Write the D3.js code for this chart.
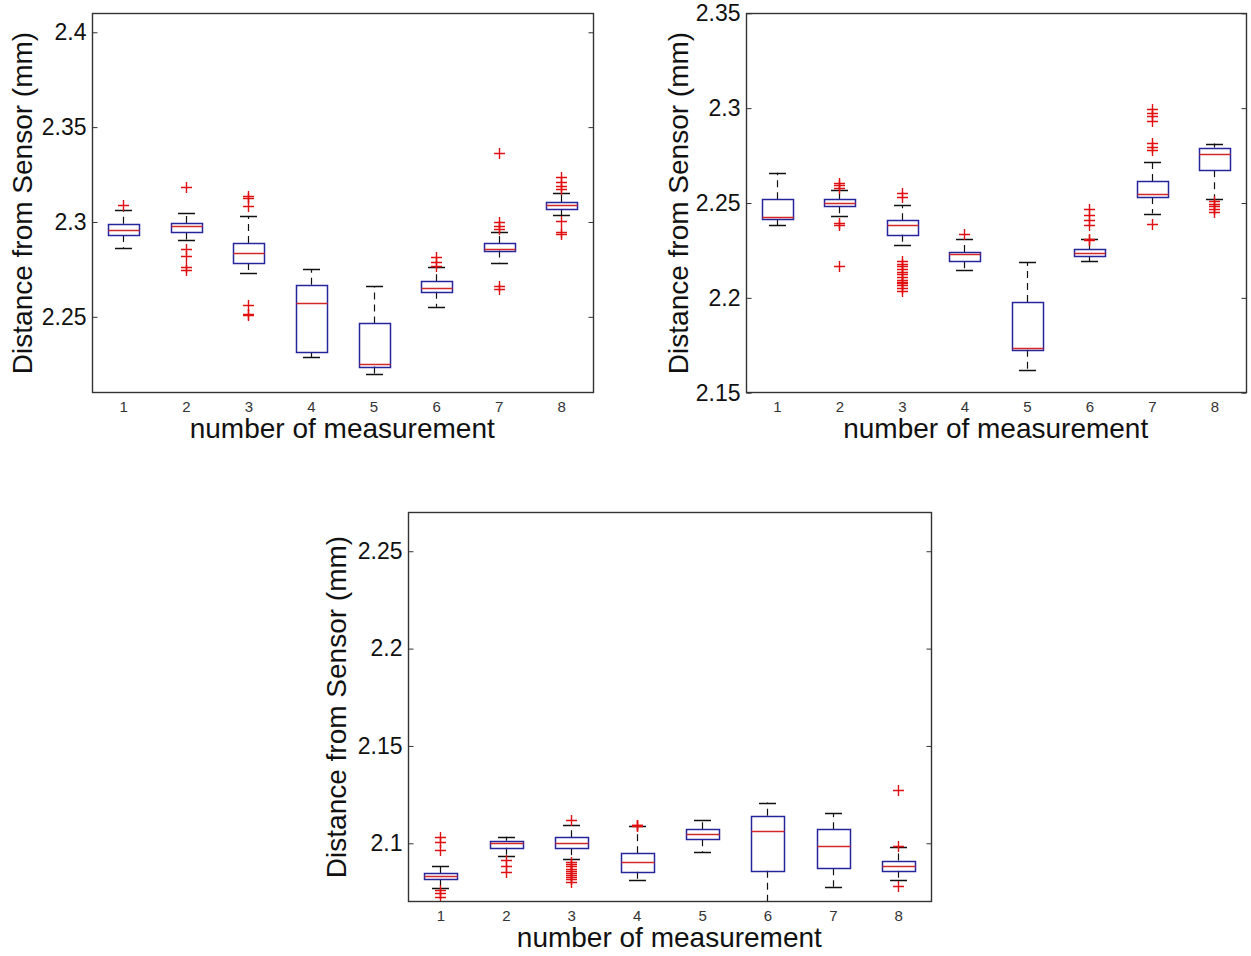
<!DOCTYPE html>
<html>
<head>
<meta charset="utf-8">
<script src="https://cdn.jsdelivr.net/npm/d3@7"></script>
<style>
  html, body { margin: 0; padding: 0; background: #fff; }
  svg { display: block; font-family: "Liberation Sans", Arial, sans-serif; }
</style>
</head>
<body>
<svg id="chart" width="1251" height="956"></svg>
<script>
// Measurement numbers shared by all three panels
const measurements = [1, 2, 3, 4, 5, 6, 7, 8];

// ---- Panel A (top left) ----
const aRange = [2.21, 2.41];
const aTicks = [2.25, 2.3, 2.35, 2.4];
const aTickLabels = ["2.25", "2.3", "2.35", "2.4"];
const aQ1     = [2.2931, 2.2945, 2.2784, 2.2312, 2.2238, 2.2632, 2.2849, 2.3069];
const aMedian = [2.2959, 2.2980, 2.2836, 2.2573, 2.2251, 2.2652, 2.2858, 2.3090];
const aQ3     = [2.2990, 2.2995, 2.2889, 2.2669, 2.2465, 2.2687, 2.2889, 2.3105];
const aLow    = [2.2864, 2.2903, 2.2729, 2.2288, 2.2201, 2.2553, 2.2785, 2.3037];
const aHigh   = [2.3063, 2.3047, 2.3030, 2.2750, 2.2660, 2.2760, 2.2947, 2.3153];
const aOutliers = [
  [2.3090],
  [2.3186, 2.2858, 2.2819, 2.2761, 2.2747],
  [2.3135, 2.3127, 2.3082, 2.2564, 2.2515, 2.2510],
  [],
  [],
  [2.2813, 2.2787, 2.2769],
  [2.3363, 2.2998, 2.2980, 2.2963, 2.2660, 2.2647],
  [2.3235, 2.3212, 2.3188, 2.3172, 2.3007, 2.2945, 2.2937]
];

// ---- Panel B (top right) ----
const bRange = [2.15, 2.35];
const bTicks = [2.15, 2.2, 2.25, 2.3, 2.35];
const bTickLabels = ["2.15", "2.2", "2.25", "2.3", "2.35"];
const bQ1     = [2.2414, 2.2483, 2.2333, 2.2193, 2.1727, 2.2221, 2.2532, 2.2672];
const bMedian = [2.2426, 2.2500, 2.2382, 2.2233, 2.1738, 2.2239, 2.2550, 2.2758];
const bQ3     = [2.2520, 2.2520, 2.2409, 2.2242, 2.1978, 2.2256, 2.2616, 2.2792];
const bLow    = [2.2384, 2.2434, 2.2281, 2.2145, 2.1622, 2.2194, 2.2444, 2.2523];
const bHigh   = [2.2660, 2.2567, 2.2488, 2.2309, 2.2187, 2.2310, 2.2716, 2.2813];
const bOutliers = [
  [],
  [2.2605, 2.2593, 2.2581, 2.2395, 2.2382, 2.2168],
  [2.2553, 2.2532, 2.2194, 2.2180, 2.2166, 2.2152, 2.2138, 2.2124, 2.2110,
   2.2095, 2.2082, 2.2079, 2.2067, 2.2050, 2.2035],
  [2.2339],
  [],
  [2.2470, 2.2438, 2.2412, 2.2386, 2.2312, 2.2303],
  [2.2998, 2.2975, 2.2957, 2.2932, 2.2814, 2.2796, 2.2780, 2.2391],
  [2.2510, 2.2497, 2.2486, 2.2470, 2.2455]
];

// ---- Panel C (bottom) ----
const cRange = [2.07, 2.27];
const cTicks = [2.1, 2.15, 2.2, 2.25];
const cTickLabels = ["2.1", "2.15", "2.2", "2.25"];
const cQ1     = [2.0815, 2.0977, 2.0974, 2.0854, 2.1021, 2.0859, 2.0872, 2.0859];
const cMedian = [2.0832, 2.1000, 2.1000, 2.0902, 2.1048, 2.1065, 2.0986, 2.0885];
const cQ3     = [2.0846, 2.1013, 2.1031, 2.0949, 2.1072, 2.1142, 2.1072, 2.0911];
const cLow    = [2.0772, 2.0935, 2.0918, 2.0811, 2.0954, 2.0690, 2.0777, 2.0812];
const cHigh   = [2.0883, 2.1034, 2.1094, 2.1089, 2.1120, 2.1209, 2.1154, 2.0983];
const cOutliers = [
  [2.1031, 2.1008, 2.0966, 2.0759, 2.0743, 2.0726],
  [2.0914, 2.0883, 2.0851],
  [2.1122, 2.0905, 2.0893, 2.0881, 2.0868, 2.0858, 2.0847, 2.0837, 2.0827, 2.0815, 2.0803],
  [2.1095, 2.1092, 2.1090],
  [],
  [],
  [],
  [2.1274, 2.0985, 2.0782]
];

const yTitle = "Distance from Sensor (mm)";
const xTitle = "number of measurement";

// Styling
const BOX_COLOR = "#26269c";
const MEDIAN_COLOR = "#d42828";
const OUTLIER_COLOR = "#e01010";
const WHISKER_COLOR = "#111";
const FRAME_COLOR = "#333";

const svg = d3.select("#chart");

function drawPanel(id, frame, s) {
  const x = d3.scaleLinear().domain([0.5, 8.5]).range([frame.left, frame.right]);
  const y = d3.scaleLinear().domain(s.range).range([frame.bottom, frame.top]);
  const px = v => Math.round(v) + 0.5;

  const g = svg.append("g").attr("class", "panel-" + id);

  g.append("clipPath").attr("id", "clip-" + id)
    .append("rect")
    .attr("x", frame.left).attr("y", frame.top)
    .attr("width", frame.right - frame.left)
    .attr("height", frame.bottom - frame.top);

  const plot = g.append("g").attr("clip-path", `url(#clip-${id})`);

  const boxW = x(1.25) - x(1);     // half box width (box width 0.5)
  const capW = x(1.13) - x(1);     // half cap width

  measurements.forEach((m, i) => {
    const cx = px(x(m));
    const bg = plot.append("g");

    // whiskers (dashed)
    bg.append("line")
      .attr("x1", cx).attr("x2", cx)
      .attr("y1", y(s.q3[i])).attr("y2", y(s.high[i]))
      .attr("stroke", WHISKER_COLOR).attr("stroke-width", 1.2)
      .attr("stroke-dasharray", "7,5");
    bg.append("line")
      .attr("x1", cx).attr("x2", cx)
      .attr("y1", y(s.q1[i])).attr("y2", y(s.low[i]))
      .attr("stroke", WHISKER_COLOR).attr("stroke-width", 1.2)
      .attr("stroke-dasharray", "7,5");

    // whisker caps
    [s.high[i], s.low[i]].forEach(v => {
      bg.append("line")
        .attr("x1", Math.round(cx - capW)).attr("x2", Math.round(cx + capW))
        .attr("y1", px(y(v))).attr("y2", px(y(v)))
        .attr("stroke", WHISKER_COLOR).attr("stroke-width", 1.3);
    });

    // box
    const top = px(y(s.q3[i]));
    const bot = px(y(s.q1[i]));
    bg.append("rect")
      .attr("x", px(cx - boxW)).attr("y", top)
      .attr("width", Math.round(2 * boxW)).attr("height", Math.max(1, bot - top))
      .attr("fill", "none")
      .attr("stroke", BOX_COLOR).attr("stroke-width", 1.5);

    // median
    bg.append("line")
      .attr("x1", px(cx - boxW)).attr("x2", px(cx - boxW) + Math.round(2 * boxW))
      .attr("y1", px(y(s.median[i]))).attr("y2", px(y(s.median[i])))
      .attr("stroke", MEDIAN_COLOR).attr("stroke-width", 1.3);

    // outliers as "+" markers
    bg.selectAll("path.out")
      .data(s.outliers[i])
      .enter().append("path")
      .attr("class", "out")
      .attr("d", v => {
        const yy = px(y(v));
        return `M${cx - 5.5},${yy}H${cx + 5.5}M${cx},${yy - 5.5}V${yy + 5.5}`;
      })
      .attr("fill", "none")
      .attr("stroke", OUTLIER_COLOR).attr("stroke-width", 1.4);
  });

  // frame
  g.append("rect")
    .attr("x", px(frame.left)).attr("y", px(frame.top))
    .attr("width", Math.round(frame.right - frame.left))
    .attr("height", Math.round(frame.bottom - frame.top))
    .attr("fill", "none")
    .attr("stroke", FRAME_COLOR).attr("stroke-width", 1.4);

  // left y axis: inward ticks with labels
  const yAxisL = d3.axisLeft(y)
    .tickValues(s.ticks)
    .tickSize(-5)
    .tickPadding(6)
    .tickFormat((d, k) => s.tickLabels[k]);
  const gl = g.append("g").attr("transform", `translate(${px(frame.left)},0)`).call(yAxisL);
  gl.select(".domain").remove();
  gl.selectAll(".tick line").attr("stroke", FRAME_COLOR);
  gl.selectAll(".tick text")
    .attr("fill", "#111")
    .style("font-size", s.tickFont + "px")
    .style("font-family", "'Liberation Sans', Arial, sans-serif");

  // right y axis: inward ticks only
  const yAxisR = d3.axisRight(y).tickValues(s.ticks).tickSize(-5).tickFormat("");
  const gr = g.append("g").attr("transform", `translate(${px(frame.right)},0)`).call(yAxisR);
  gr.select(".domain").remove();
  gr.selectAll(".tick line").attr("stroke", FRAME_COLOR);

  // x axis: category labels only
  const xAxis = d3.axisBottom(x).tickValues(measurements).tickSize(0).tickPadding(8)
    .tickFormat(d3.format("d"));
  const gx = g.append("g").attr("transform", `translate(0,${px(frame.bottom)})`).call(xAxis);
  gx.select(".domain").remove();
  gx.selectAll(".tick text")
    .attr("fill", "#333")
    .style("font-size", "15px")
    .style("font-family", "'Liberation Sans', Arial, sans-serif");

  // axis titles
  g.append("text")
    .attr("transform", `translate(${frame.yTitleX},${(frame.top + frame.bottom) / 2}) rotate(-90)`)
    .attr("text-anchor", "middle")
    .attr("dy", "0.35em")
    .attr("fill", "#111")
    .style("font-size", "28px")
    .text(yTitle);

  g.append("text")
    .attr("x", (frame.left + frame.right) / 2)
    .attr("y", frame.bottom + 45)
    .attr("text-anchor", "middle")
    .attr("fill", "#111")
    .style("font-size", "28px")
    .text(xTitle);
}

drawPanel("a",
  { left: 92, right: 592.5, top: 13.3, bottom: 392.7, yTitleX: 22 },
  { range: aRange, ticks: aTicks, tickLabels: aTickLabels, tickFont: 23,
    q1: aQ1, median: aMedian, q3: aQ3, low: aLow, high: aHigh, outliers: aOutliers });

drawPanel("b",
  { left: 745.7, right: 1245.7, top: 13.3, bottom: 392.7, yTitleX: 678 },
  { range: bRange, ticks: bTicks, tickLabels: bTickLabels, tickFont: 23,
    q1: bQ1, median: bMedian, q3: bQ3, low: bLow, high: bHigh, outliers: bOutliers });

drawPanel("c",
  { left: 407.7, right: 931, top: 512.3, bottom: 901.7, yTitleX: 336 },
  { range: cRange, ticks: cTicks, tickLabels: cTickLabels, tickFont: 23,
    q1: cQ1, median: cMedian, q3: cQ3, low: cLow, high: cHigh, outliers: cOutliers });
</script>
</body>
</html>
